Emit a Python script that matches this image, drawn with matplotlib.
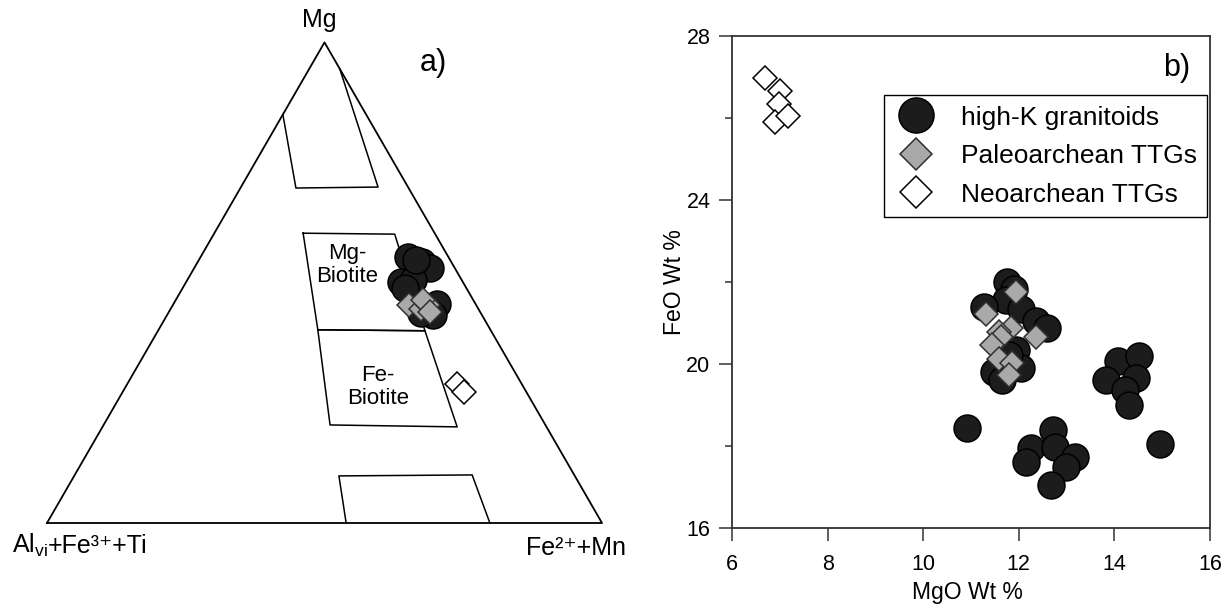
import numpy as np
import matplotlib.pyplot as plt
from matplotlib.lines import Line2D

plt.rcParams['font.family'] = ['Liberation Sans', 'DejaVu Sans']

# ---- a) ternary Mg - (Alvi+Fe3+ +Ti) - (Fe2+ +Mn), fractions (Mg, Fe) ----
tern_hk_mg = [0.553, 0.543, 0.531, 0.501, 0.506, 0.489, 0.456, 0.433, 0.437, 0.548]
tern_hk_fe = [0.374, 0.404, 0.425, 0.387, 0.406, 0.401, 0.475, 0.479, 0.455, 0.390]
tern_paleo_mg = [0.454, 0.445, 0.454, 0.464, 0.439]
tern_paleo_fe = [0.425, 0.451, 0.459, 0.445, 0.471]
tern_neo_mg = [0.289, 0.273]
tern_neo_fe = [0.594, 0.615]

# biotite fields (Mg, Fe); the top one is open towards the Mg apex
field_top = [(0.85, 0.0), (0.697, 0.10), (0.699, 0.247), (0.945, 0.055)]
field_mgbt = [(0.603, 0.16), (0.601, 0.326), (0.40, 0.481), (0.402, 0.287), (0.603, 0.16)]
field_febt = [(0.402, 0.287), (0.40, 0.481), (0.20, 0.639), (0.204, 0.408), (0.402, 0.287)]
field_bot = [(0.0, 0.539), (0.098, 0.477), (0.10, 0.716), (0.0, 0.798)]

# ---- b) MgO vs FeO (wt %) ----
hk_mgo = [10.92, 14.96, 12.71, 12.25, 12.15, 12.75, 13.17, 12.98, 12.67,
          14.08, 14.52, 13.83, 14.46, 14.23, 14.31,
          11.75, 11.90, 11.73, 12.04, 11.27, 12.35, 12.58, 11.94, 11.48, 11.65, 12.04, 11.79]
hk_feo = [18.44, 18.05, 18.40, 17.96, 17.61, 17.98, 17.74, 17.49, 17.05,
          20.08, 20.20, 19.62, 19.67, 19.37, 19.00,
          21.99, 21.82, 21.57, 21.33, 21.40, 21.04, 20.89, 20.35, 19.81, 19.62, 19.91, 20.23]
paleo_mgo = [11.94, 11.31, 11.83, 11.58, 11.63, 12.35, 11.44, 11.58, 11.85, 11.79]
paleo_feo = [21.75, 21.21, 20.89, 20.79, 20.65, 20.65, 20.47, 20.11, 20.03, 19.74]
neo_mgo = [6.69, 7.00, 6.98, 6.90, 7.17]
neo_feo = [26.98, 26.66, 26.34, 25.90, 26.05]

H = np.sqrt(3) / 2


def tern_xy(mg, fe):
    mg = np.asarray(mg)
    fe = np.asarray(fe)
    return fe + mg / 2, mg * H


circ = dict(marker='o', ms=19.4, mfc='#1c1c1c', mec='black', mew=1.1, ls='none')
gdia = dict(marker='D', ms=12.7, mfc='#a9a9a9', mec='#303030', mew=1.1, ls='none')
wdia = dict(marker='D', ms=12.7, mfc='white', mec='black', mew=1.1, ls='none')

fig = plt.figure(figsize=(12.31, 6.08), dpi=100)

# left panel
axa = fig.add_axes([47 / 1231, 85 / 608, 555 / 1231, 480.6 / 608])
axa.set_xlim(0, 1)
axa.set_ylim(0, H)
axa.axis('off')
axa.plot([0, 1, 0.5, 0], [0, 0, H, 0], color='black', lw=1.3, clip_on=False)
for poly in [field_top, field_mgbt, field_febt, field_bot]:
    px, py = tern_xy([p[0] for p in poly], [p[1] for p in poly])
    axa.plot(px, py, color='black', lw=1.1, clip_on=False)

x, y = tern_xy(tern_hk_mg, tern_hk_fe)
axa.plot(x, y, clip_on=False, **circ)
x, y = tern_xy(tern_paleo_mg, tern_paleo_fe)
axa.plot(x, y, clip_on=False, **gdia)
x, y = tern_xy(tern_neo_mg, tern_neo_fe)
axa.plot(x, y, clip_on=False, **wdia)

fig.text(319 / 1231, 1 - 20 / 608, 'Mg', fontsize=18, ha='center', va='center')
fig.text(433 / 1231, 1 - 63 / 608, 'a)', fontsize=22, ha='center', va='center')
# corner label: "Al" with subscript, then the rest as plain unicode text
rend = fig.canvas.get_renderer()
t_al = fig.text(12 / 1231, 1 - 553 / 608, r'Al$_{\mathregular{vi}}$', fontsize=18,
                ha='left', va='baseline')
bb = t_al.get_window_extent(rend)
fig.text(bb.x1 / fig.bbox.width, 1 - 553 / 608, '+Fe³⁺+Ti', fontsize=18, ha='left', va='baseline')
fig.text(526 / 1231, 1 - 555 / 608, 'Fe²⁺+Mn', fontsize=18, ha='left', va='baseline')
fig.text(347 / 1231, 1 - 265 / 608, 'Mg-\nBiotite', fontsize=16, ha='center', va='center',
         linespacing=1.1)
fig.text(378 / 1231, 1 - 387 / 608, 'Fe-\nBiotite', fontsize=16, ha='center', va='center',
         linespacing=1.1)

# right panel
axb = fig.add_axes([732 / 1231, 80 / 608, 478 / 1231, 492 / 608])
axb.plot(hk_mgo, hk_feo, **circ)
axb.plot(paleo_mgo, paleo_feo, **gdia)
axb.plot(neo_mgo, neo_feo, **wdia)
axb.set_xlim(6, 16)
axb.set_ylim(16, 28)
axb.set_xticks([6, 8, 10, 12, 14, 16])
axb.set_yticks([16, 20, 24, 28])
axb.set_yticks([18, 22, 26], minor=True)
axb.tick_params(direction='out', length=9.5, width=1.1, labelsize=15.5, color='#333333')
axb.tick_params(axis='x', pad=9)
axb.tick_params(axis='y', pad=6)
axb.tick_params(which='minor', direction='out', length=5, width=1.1, color='#333333')
for s in axb.spines.values():
    s.set_linewidth(1.3)
    s.set_color('#333333')
axb.set_xlabel('MgO Wt %', fontsize=16.5)
axb.xaxis.set_label_coords(0.493, -0.108)
axb.set_ylabel('FeO Wt %', fontsize=16.5)
axb.yaxis.set_label_coords(-0.096, 0.5)
axb.text(0.93, 0.935, 'b)', transform=axb.transAxes, fontsize=22, ha='center', va='center')

handles = [Line2D([], [], **circ), Line2D([], [], **gdia), Line2D([], [], **wdia)]
labels = ['high-K granitoids', 'Paleoarchean TTGs', 'Neoarchean TTGs']
leg = axb.legend(handles, labels, loc='upper right', bbox_to_anchor=(0.994, 0.88),
                 borderaxespad=0, fontsize=19, markerscale=1.3, fancybox=False,
                 edgecolor='black', framealpha=1, handletextpad=0.9, labelspacing=0.55,
                 borderpad=0.4, handlelength=1.6)
leg.get_frame().set_linewidth(1.0)

fig.savefig('out.png', dpi=100)
